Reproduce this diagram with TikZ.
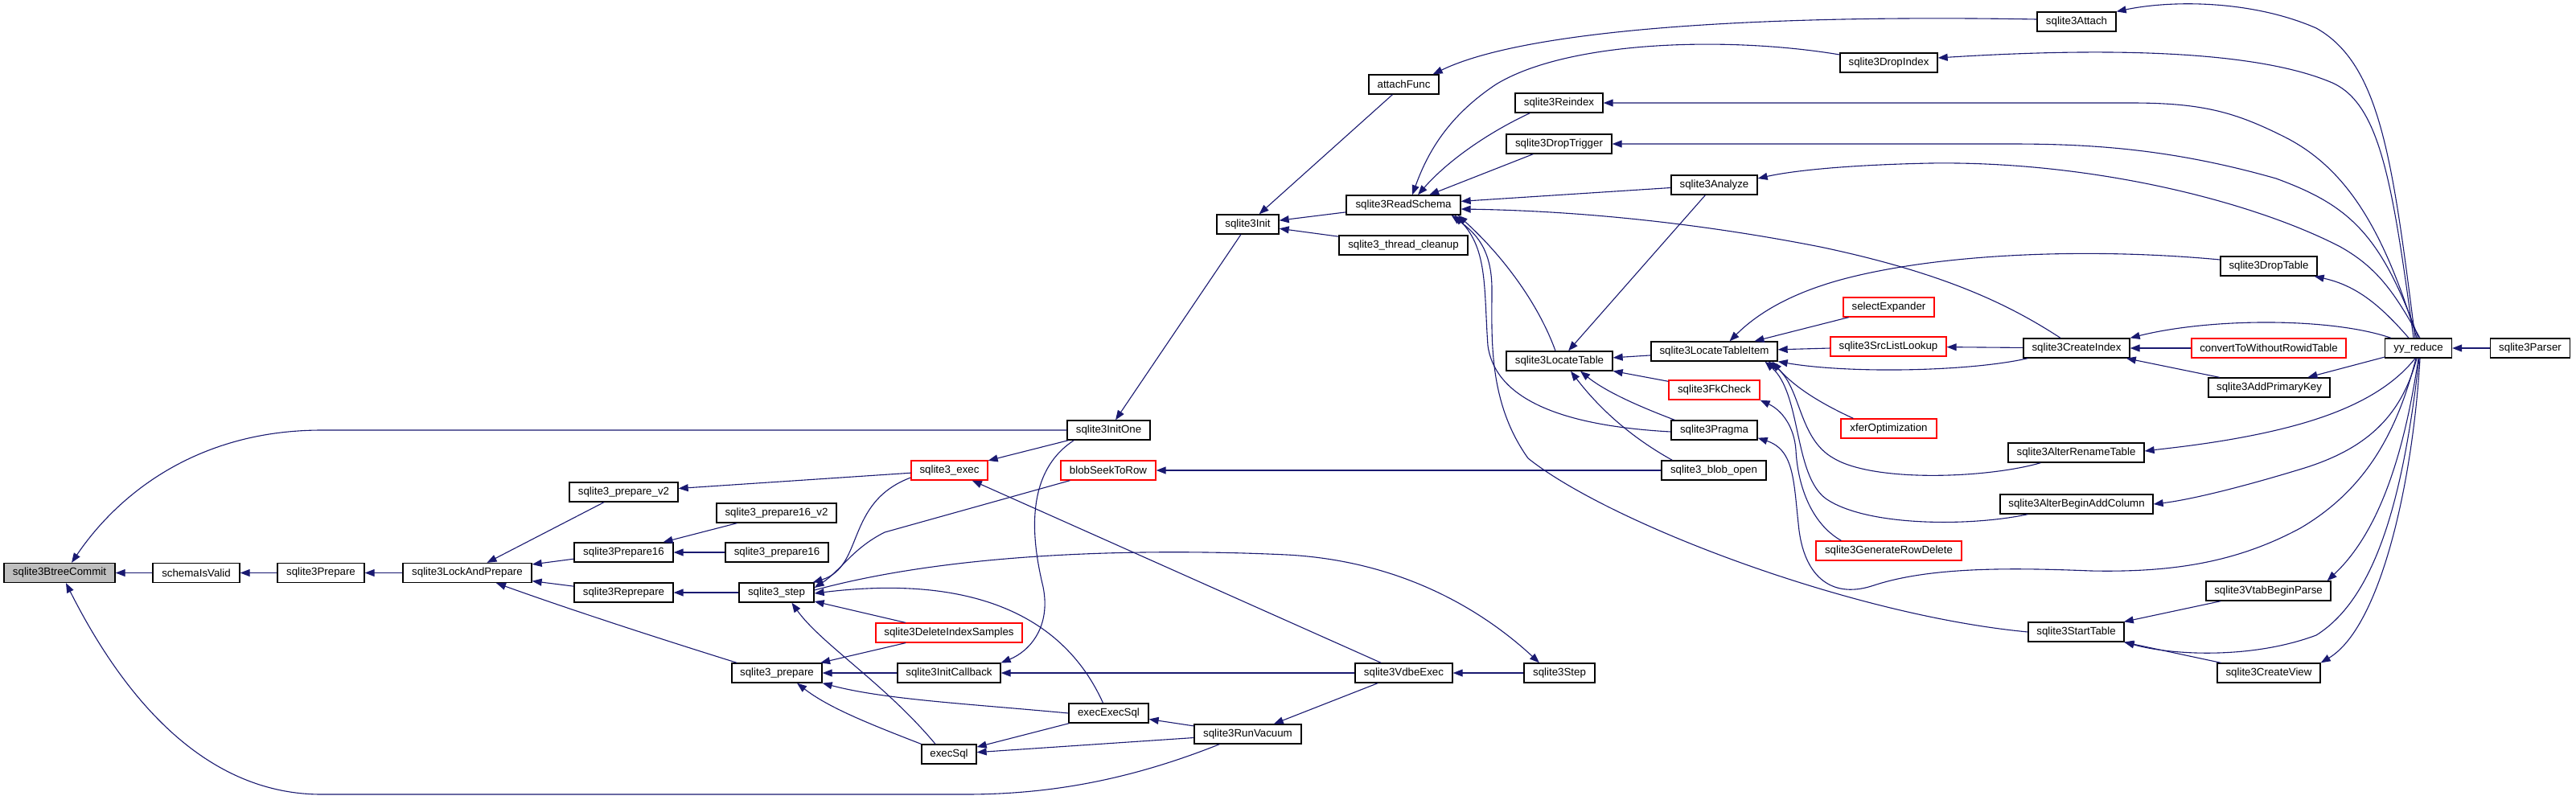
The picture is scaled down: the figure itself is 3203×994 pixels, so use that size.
\documentclass[tikz,border=0pt]{standalone}
\usepackage{fontspec}
\setmainfont{Liberation Sans}
\usetikzlibrary{arrows.meta,calc}
\definecolor{edgec}{HTML}{191970}
\definecolor{rootfill}{HTML}{BFBFBF}
\definecolor{truncc}{HTML}{FF0000}
\begin{document}
\begin{tikzpicture}[x=1pt,y=-1pt,
  fn/.style={draw=black, line width=1.3pt, fill=white, minimum height=24pt, inner sep=0pt,
    font=\fontsize{13.3}{16}\selectfont, text=black},
  rootfn/.style={fn, fill=rootfill},
  truncfn/.style={fn, draw=truncc},
  ce/.style={draw=edgec, line width=1.1pt, -{Triangle[length=12pt,width=9pt]}}]
\useasboundingbox (0,0) rectangle (3203,994);
% nodes
\node[rootfn, minimum width=138pt] (btc) at (74,712.5) {sqlite3BtreeCommit};
\node[fn, minimum width=108pt] (siv) at (244,712.5) {schemaIsValid};
\node[fn, minimum width=108pt] (prep) at (399,712.5) {sqlite3Prepare};
\node[fn, minimum width=160pt] (lap) at (581,712.5) {sqlite3LockAndPrepare};
\node[fn, minimum width=135pt] (pv2) at (775.5,612) {sqlite3\_prepare\_v2};
\node[fn, minimum width=123pt] (p16) at (775.5,687) {sqlite3Prepare16};
\node[fn, minimum width=123pt] (repr) at (775.5,737) {sqlite3Reprepare};
\node[fn, minimum width=112pt] (sp) at (966,837) {sqlite3\_prepare};
\node[fn, minimum width=93pt] (step) at (965.5,737) {sqlite3\_step};
\node[fn, minimum width=149pt] (p16v2) at (965.5,638) {sqlite3\_prepare16\_v2};
\node[fn, minimum width=128pt] (p16b) at (966,687) {sqlite3\_prepare16};
\node[truncfn, minimum width=95pt] (exec) at (1180.5,585) {sqlite3\_exec};
\node[fn, minimum width=103pt] (initone) at (1378.5,535) {sqlite3InitOne};
\node[truncfn, minimum width=118pt] (b2r) at (1378,585) {blobSeekToRow};
\node[truncfn, minimum width=182pt] (dis) at (1180,787) {sqlite3DeleteIndexSamples};
\node[fn, minimum width=128pt] (icb) at (1180,837) {sqlite3InitCallback};
\node[fn, minimum width=99pt] (eesql) at (1378.5,887) {execExecSql};
\node[fn, minimum width=68pt] (esql) at (1180,938) {execSql};
\node[fn, minimum width=133pt] (vac) at (1551.5,913) {sqlite3RunVacuum};
\node[fn, minimum width=121pt] (vdbe) at (1745.5,837) {sqlite3VdbeExec};
\node[fn, minimum width=88pt] (sstep) at (1939,837) {sqlite3Step};
\node[fn, minimum width=77pt] (init) at (1551.5,279) {sqlite3Init};
\node[fn, minimum width=87pt] (attach) at (1745.5,105) {attachFunc};
\node[fn, minimum width=142pt] (rs) at (1745,255) {sqlite3ReadSchema};
\node[fn, minimum width=160pt] (tc) at (1745,305) {sqlite3\_thread\_cleanup};
\node[fn, minimum width=109pt] (reindex) at (1938.5,128) {sqlite3Reindex};
\node[fn, minimum width=131pt] (droptrig) at (1938.5,179) {sqlite3DropTrigger};
\node[fn, minimum width=107pt] (analyze) at (2131.5,230) {sqlite3Analyze};
\node[fn, minimum width=121pt] (dropidx) at (2348.5,78) {sqlite3DropIndex};
\node[fn, minimum width=98pt] (sattach) at (2582,27) {sqlite3Attach};
\node[fn, minimum width=132pt] (lt) at (1939,449) {sqlite3LocateTable};
\node[fn, minimum width=157pt] (lti) at (2131.5,437) {sqlite3LocateTableItem};
\node[truncfn, minimum width=113pt] (selexp) at (2348.5,382) {selectExpander};
\node[truncfn, minimum width=144pt] (srcll) at (2348,431) {sqlite3SrcListLookup};
\node[truncfn, minimum width=113pt] (fk) at (2131.5,485) {sqlite3FkCheck};
\node[truncfn, minimum width=119pt] (xfer) at (2348.5,533) {xferOptimization};
\node[fn, minimum width=107pt] (pragma) at (2131.5,535) {sqlite3Pragma};
\node[fn, minimum width=130pt] (blobopen) at (2131,585) {sqlite3\_blob\_open};
\node[truncfn, minimum width=181pt] (grd) at (2348.5,685) {sqlite3GenerateRowDelete};
\node[fn, minimum width=169pt] (art) at (2581.5,563) {sqlite3AlterRenameTable};
\node[fn, minimum width=190pt] (abac) at (2582,627) {sqlite3AlterBeginAddColumn};
\node[fn, minimum width=119pt] (st) at (2581.5,786) {sqlite3StartTable};
\node[fn, minimum width=155pt] (vbp) at (2820.5,735) {sqlite3VtabBeginParse};
\node[fn, minimum width=128pt] (cv) at (2821,837) {sqlite3CreateView};
\node[fn, minimum width=120pt] (droptab) at (2821,331) {sqlite3DropTable};
\node[fn, minimum width=132pt] (ci) at (2582,433) {sqlite3CreateIndex};
\node[truncfn, minimum width=192pt] (cwr) at (2821,433) {convertToWithoutRowidTable};
\node[fn, minimum width=83pt] (yy) at (3007,433) {yy\_reduce};
\node[fn, minimum width=99pt] (parser) at (3146,433) {sqlite3Parser};
\node[fn, minimum width=151pt] (apk) at (2821.5,482) {sqlite3AddPrimaryKey};
% edges
\draw[ce] (siv) -- (btc);
\draw[ce] (prep) -- (siv);
\draw[ce] (lap) -- (prep);
\draw[ce] (pv2) -- (lap);
\draw[ce] (p16) -- (lap);
\draw[ce] (repr) -- (lap);
\draw[ce] ($(sp.north west)+(7,0)$) .. controls (800,788) and (700,755) .. ($(lap.south)+(36,0)$);
\draw[ce] (initone.west) -- (400,535) .. controls (250,535) and (150,610) .. ($(btc.north)+(15,0)$);
\draw[ce] ($(vac.south west)+(32,0)$) .. controls (1400,972) and (1300,988) .. (1200,988) -- (400,988) .. controls (250,988) and (150,860) .. ($(btc.south)+(8,0)$);
\draw[ce] (exec) -- (pv2);
\draw[ce] (p16v2) -- (p16);
\draw[ce] (p16b) -- (p16);
\draw[ce] (step) -- (repr);
\draw[ce] ($(exec.west)+(0,9)$) .. controls (1050,625) and (1075,705) .. ($(step.north east)+(-2,0)$);
\draw[ce] ($(b2r.south west)+(12,0)$) -- (1100,662) .. controls (1060,682) and (1045,710) .. ($(step.east)+(0,-6)$);
\draw[ce] ($(step.east)+(0,-3)$) .. controls (1200,683) and (1450,683) .. (1600,690) .. controls (1750,698) and (1850,765) .. ($(sstep.north)+(-25,0)$);
\draw[ce] (dis) -- (step);
\draw[ce] (dis) -- (sp);
\draw[ce] (icb) -- (sp);
\draw[ce] (eesql.west) .. controls (1200,875) and (1100,870) .. (sp.south east);
\draw[ce] (esql.north west) .. controls (1080,900) and (1030,880) .. ($(sp.south)+(25,0)$);
\draw[ce] ($(esql.north)+(-17,0)$) .. controls (1100,850) and (1020,800) .. ($(step.south)+(19,0)$);
\draw[ce] ($(eesql.north)+(-7,0)$) .. controls (1320,760) and (1200,715) .. ($(step.east)+(0,1)$);
\draw[ce] (eesql) -- (esql);
\draw[ce] (vac) -- (eesql);
\draw[ce] (vac) -- (esql);
\draw[ce] (vdbe) -- (vac);
\draw[ce] (vdbe) -- (exec);
\draw[ce] (vdbe) -- (icb);
\draw[ce] ($(initone.south west)+(9,0)$) .. controls (1270,590) and (1285,680) .. (1297,730) .. controls (1307,780) and (1280,810) .. (icb.north east);
\draw[ce] (initone) -- (exec);
\draw[ce] (blobopen) -- (b2r);
\draw[ce] (sstep) -- (vdbe);
\draw[ce] (init) -- (initone);
\draw[ce] (attach) -- (init);
\draw[ce] (rs) -- (init);
\draw[ce] (tc) -- (init);
\draw[ce] ($(sattach.west)+(0,-3)$) .. controls (2200,18) and (1900,35) .. ($(attach.north east)+(-8,0)$);
\draw[ce] ($(yy.north)+(-4,0)$) .. controls (2975,200) and (2960,80) .. (2880,35) .. controls (2800,0) and (2700,0) .. (sattach.north east);
\draw[ce] ($(yy.north)+(-6,0)$) .. controls (2975,230) and (2960,130) .. (2900,103) .. controls (2800,60) and (2600,60) .. ($(dropidx.east)+(0,-6)$);
\draw[ce] ($(dropidx.west)+(0,-10)$) .. controls (2150,45) and (1950,50) .. (1860,105) .. controls (1800,145) and (1775,190) .. ($(rs.north)+(11,0)$);
\draw[ce] ($(reindex.south west)+(19,0)$) .. controls (1850,165) and (1800,200) .. ($(rs.north)+(18,0)$);
\draw[ce] ($(yy.north)+(-2,0)$) .. controls (2965,290) and (2920,210) .. (2840,170) .. controls (2780,140) and (2740,128) .. (2650,128) -- (reindex.east);
\draw[ce] (droptrig) -- (rs);
\draw[ce] (yy.north) .. controls (2960,290) and (2920,255) .. (2830,222) .. controls (2700,185) and (2600,179) .. (2500,179) -- (droptrig.east);
\draw[ce] (analyze) -- (rs);
\draw[ce] ($(yy.north)+(2,0)$) .. controls (2980,370) and (2960,335) .. (2910,307) .. controls (2800,250) and (2600,200) .. (2400,203) .. controls (2300,205) and (2230,212) .. ($(analyze.east)+(0,-8)$);
\draw[ce] ($(ci.north)+(-20,0)$) .. controls (2500,380) and (2420,340) .. (2263,307) .. controls (2100,275) and (1950,262) .. ($(rs.east)+(0,5)$);
\draw[ce] ($(lt.north)+(-5,0)$) .. controls (1910,370) and (1860,310) .. ($(rs.south east)+(-4,0)$);
\draw[ce] ($(pragma.west)+(0,2)$) .. controls (1950,530) and (1860,500) .. (1850,430) .. controls (1845,360) and (1850,310) .. ($(rs.south east)+(-8,0)$);
\draw[ce] (st.west) .. controls (2300,765) and (2000,650) .. (1900,570) .. controls (1850,500) and (1855,420) .. (1855,360) .. controls (1855,310) and (1835,290) .. ($(rs.south east)+(-12,0)$);
\draw[ce] (analyze) -- (lt);
\draw[ce] (lti) -- (lt);
\draw[ce] (fk) -- (lt);
\draw[ce] ($(blobopen.north west)+(14,0)$) .. controls (2030,545) and (1990,510) .. ($(lt.south)+(14,0)$);
\draw[ce] ($(pragma.north west)+(5,0)$) .. controls (2050,510) and (2000,490) .. ($(lt.south)+(26,0)$);
\draw[ce] (selexp) -- (lti);
\draw[ce] (srcll) -- (lti);
\draw[ce] ($(droptab.west)+(0,-8)$) .. controls (2600,308) and (2420,315) .. (2300,345) .. controls (2220,365) and (2180,395) .. ($(lti.north)+(19,0)$);
\draw[ce] ($(ci.south west)+(6,0)$) .. controls (2450,462) and (2300,465) .. (lti.south east);
\draw[ce] ($(xfer.north west)+(16,0)$) .. controls (2260,500) and (2230,480) .. ($(lti.south)+(72,0)$);
\draw[ce] ($(art.south west)+(41,0)$) .. controls (2470,595) and (2330,600) .. (2280,570) .. controls (2235,545) and (2240,480) .. ($(lti.south)+(67,0)$);
\draw[ce] ($(abac.south west)+(35,0)$) .. controls (2450,655) and (2320,655) .. (2270,620) .. controls (2230,590) and (2240,490) .. ($(lti.south)+(63,0)$);
\draw[ce] ($(grd.north west)+(32,0)$) .. controls (2250,650) and (2235,600) .. (2233,560) .. controls (2231,530) and (2215,510) .. (fk.south east);
\draw[ce] ($(yy.south)+(-3,0)$) .. controls (2980,540) and (2940,610) .. (2860,657) .. controls (2780,700) and (2700,712) .. (2600,710) .. controls (2500,706) and (2400,705) .. (2330,728) .. controls (2280,745) and (2245,720) .. (2237,660) .. controls (2230,600) and (2232,560) .. ($(pragma.south east)+(0,-3)$);
\draw[ce] (ci) -- (srcll);
\draw[ce] (cwr) -- (ci);
\draw[ce] (apk) -- (ci);
\draw[ce] ($(yy.north west)+(8,0)$) .. controls (2900,395) and (2750,395) .. (ci.north east);
\draw[ce] (yy) -- (apk);
\draw[ce] (parser) -- (yy);
\draw[ce] ($(yy.north)+(-12,0)$) .. controls (2960,380) and (2930,355) .. ($(droptab.south east)+(-4,0)$);
\draw[ce] ($(yy.south)+(-4,0)$) .. controls (2960,500) and (2880,525) .. (2808,540) .. controls (2750,552) and (2700,557) .. ($(art.east)+(0,-2)$);
\draw[ce] ($(yy.south)+(-2,0)$) .. controls (2985,520) and (2940,560) .. (2859,584) .. controls (2780,608) and (2720,622) .. (abac.east);
\draw[ce] (yy.south) .. controls (2990,560) and (2960,660) .. ($(vbp.north east)+(-5,0)$);
\draw[ce] ($(yy.south)+(1,0)$) .. controls (2990,600) and (2960,740) .. (2880,790) .. controls (2800,820) and (2700,815) .. (st.south east);
\draw[ce] ($(yy.south)+(2,0)$) .. controls (3000,600) and (2960,780) .. (cv.north east);
\draw[ce] (vbp) -- (st);
\draw[ce] (cv) -- (st);
\end{tikzpicture}
\end{document}
